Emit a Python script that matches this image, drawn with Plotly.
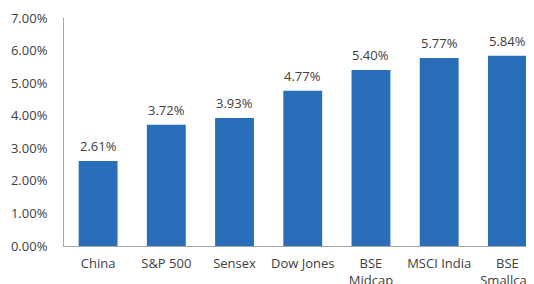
import plotly.graph_objects as go

categories = ["China", "S&P 500", "Sensex", "Dow Jones", "BSE<br>Midcap", "MSCI India", "BSE<br>Smallcap"]
values = [2.61, 3.72, 3.93, 4.77, 5.40, 5.77, 5.84]
tick_vals = [0, 1, 2, 3, 4, 5, 6, 7]
tick_text = [f"{v:.2f}%" for v in tick_vals]
labels = [f"{v:.2f}%" for v in values]

FONT = "Open Sans"
TXT = "#404040"

fig = go.Figure(go.Bar(
    x=list(range(len(categories))),
    y=values,
    marker=dict(color="#2A6DB8", line=dict(width=0)),
    cliponaxis=False,
))

# value labels above the bars
for i, (v, t) in enumerate(zip(values, labels)):
    fig.add_annotation(x=i, y=v, text=t, showarrow=False, yanchor="bottom",
                       yshift=4, font=dict(family=FONT, size=13, color=TXT))

# page body has an 8px default margin, so the figure is sized to fit the window
fig.update_layout(
    width=526, height=276,
    margin=dict(l=56, r=0, t=10, b=38),
    paper_bgcolor="white", plot_bgcolor="white",
    bargap=0.43,
    showlegend=False,
    font=dict(family=FONT, color=TXT),
)
fig.update_xaxes(
    tickmode="array",
    tickvals=list(range(len(categories))),
    ticktext=categories,
    range=[-0.5, 6.39],
    showline=True, linecolor="#A6A6A6", linewidth=1,
    showgrid=False, zeroline=False, ticks="",
    tickfont=dict(family=FONT, size=13, color=TXT),
    ticklabelstandoff=5,
    ticklabeloverflow="allow",
    automargin=False,
)
fig.update_yaxes(
    range=[0, 7],
    tickmode="array", tickvals=tick_vals, ticktext=tick_text,
    showline=True, linecolor="#A6A6A6", linewidth=1,
    showgrid=False, zeroline=False, ticks="",
    tickfont=dict(family=FONT, size=13, color=TXT),
    ticklabelstandoff=13,
    automargin=False,
)

fig.write_html("out.html")
